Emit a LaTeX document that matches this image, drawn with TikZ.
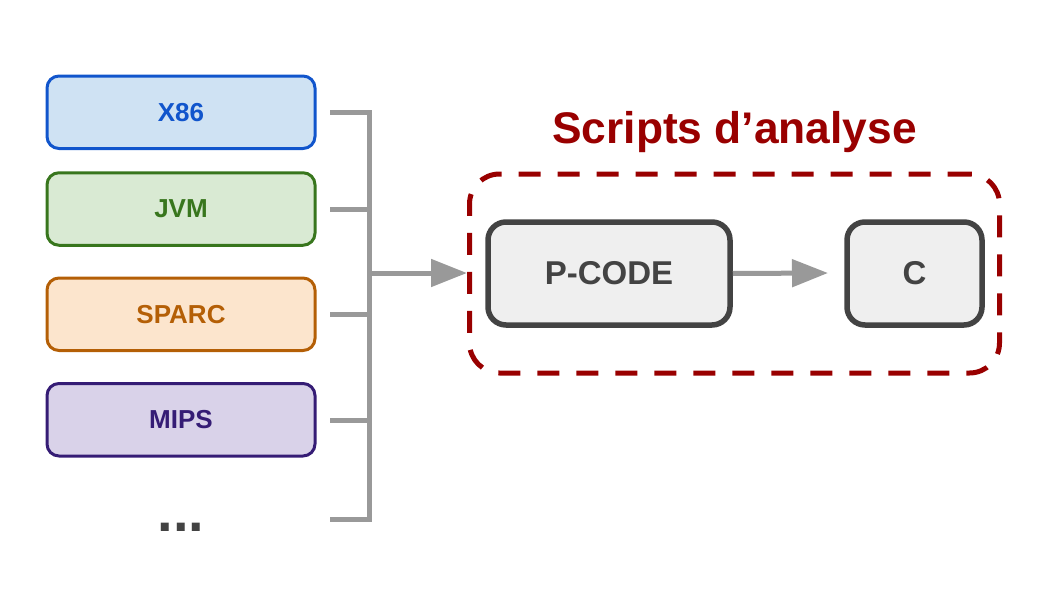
\documentclass[tikz,border=0pt]{standalone}
\usepackage{fontspec}
\setmainfont{Liberation Sans}
\usetikzlibrary{arrows.meta}
\definecolor{lblue}{HTML}{CFE2F3}\definecolor{dblue}{HTML}{1155CC}
\definecolor{lgreen}{HTML}{D9EAD3}\definecolor{dgreen}{HTML}{38761D}
\definecolor{lorange}{HTML}{FCE5CD}\definecolor{dorange}{HTML}{B45F06}
\definecolor{lpurple}{HTML}{D9D2E9}\definecolor{dpurple}{HTML}{351C75}
\definecolor{cgray}{HTML}{999999}\definecolor{dgray}{HTML}{434343}
\definecolor{lgray}{HTML}{EFEFEF}\definecolor{dred}{HTML}{990000}
\tikzset{
  archbox/.style={draw=#1, line width=3pt, rounded corners=12pt, minimum width=268pt, minimum height=72.5pt, inner sep=0pt, text=#1, font=\bfseries\fontsize{26}{30}\selectfont},
  codebox/.style={draw=dgray, fill=lgray, line width=5.5pt, rounded corners=18pt, minimum height=103pt, inner sep=0pt, text=dgray, font=\bfseries\fontsize{33}{38}\selectfont},
  conn/.style={draw=cgray, line width=5pt},
  arr/.style={conn, -{Triangle[length=36pt,width=27pt]}},
}
\begin{document}
\begin{tikzpicture}[x=1pt,y=-1pt]
\useasboundingbox (0,0) rectangle (1049,589);
\node[archbox=dblue, fill=lblue] (x86) at (181,112.25) {X86};
\node[archbox=dgreen, fill=lgreen] (jvm) at (181,209) {JVM};
\node[archbox=dorange, fill=lorange] (sparc) at (181,314.25) {SPARC};
\node[archbox=dpurple, fill=lpurple] (mips) at (181,419.75) {MIPS};
\node[anchor=base, text=dgray, font=\bfseries\fontsize{56}{60}\selectfont, inner sep=0pt] (dots) at (181,531) {...};
% bracket
\coordinate (t1) at (330,112);
\coordinate (t2) at (330,209);
\coordinate (t3) at (330,314);
\coordinate (t4) at (330,420);
\coordinate (t5) at (330,519);
\coordinate (b1) at (369,112);
\coordinate (b2) at (369,209);
\coordinate (b3) at (369,314);
\coordinate (b4) at (369,420);
\coordinate (b5) at (369,519);
\draw[conn, line join=miter] (t1) -- (b1) -- (b5) -- (t5);
\draw[conn] (t2) -- (b2);
\draw[conn] (t3) -- (b3);
\draw[conn] (t4) -- (b4);
\coordinate (bmid) at (369,273);
\coordinate (gtip) at (467,273);
\draw[arr] (bmid) -- (gtip);
% scripts group
\node[draw=dred, line width=5pt, dash pattern=on 22pt off 17pt, rounded corners=30pt, minimum width=530pt, minimum height=199pt, inner sep=0pt] (group) at (734.5,273.5) {};
\node[anchor=base, text=dred, font=\bfseries\fontsize{44.3}{50}\selectfont, inner sep=0pt] (title) at (734.5,143) {Scripts d’analyse};
\node[codebox, minimum width=242pt] (pcode) at (609,273.5) {P-CODE};
\node[codebox, minimum width=135pt] (c) at (914.5,273.5) {C};
\coordinate (ctip) at (828,273);
\draw[arr] (pcode.east) -- (ctip);
\end{tikzpicture}
\end{document}
